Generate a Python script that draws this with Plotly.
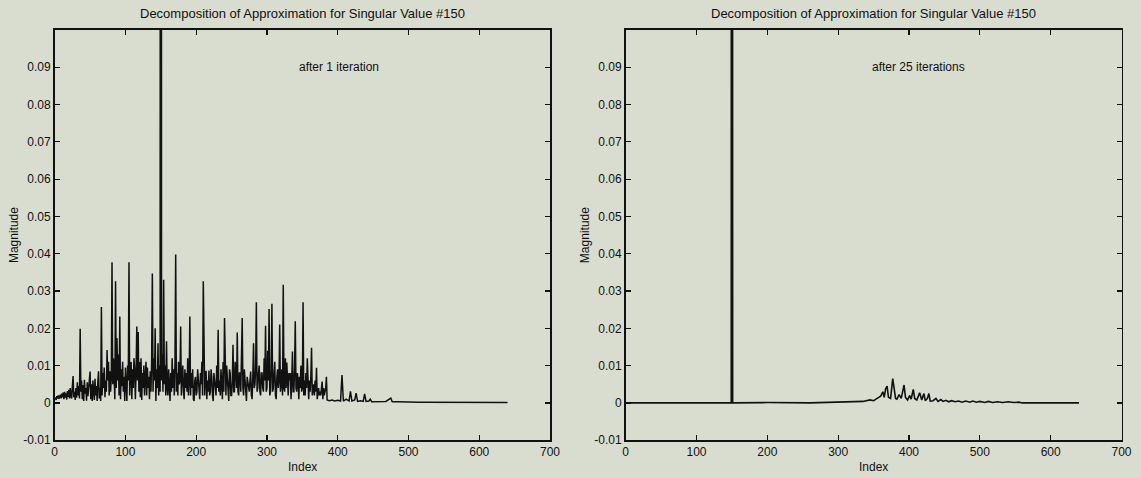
import plotly.graph_objects as go

# ---------------- data ----------------
plot_title = "Decomposition of Approximation for Singular Value #150"
left_note = "after 1 iteration"
right_note = "after 25 iterations"
x_label = "Index"
y_label = "Magnitude"

x_tick_vals = [0, 100, 200, 300, 400, 500, 600, 700]
x_tick_text = ["0", "100", "200", "300", "400", "500", "600", "700"]
y_tick_vals = [-0.01, 0, 0.01, 0.02, 0.03, 0.04, 0.05, 0.06, 0.07, 0.08, 0.09]
y_tick_text = ["-0.01", "0", "0.01", "0.02", "0.03", "0.04", "0.05",
               "0.06", "0.07", "0.08", "0.09"]

# after 1 iteration: magnitude at index 0..384, in units of 1e-4
# (index 150 is the dominant component, far above the top of the axis)
left_magnitude_e4 = [
    10, 14, 8, 18, 12, 20, 11, 16, 22, 12,
    25, 15, 28, 10, 30, 14, 26, 9, 32, 16,
    35, 12, 40, 18, 12, 45, 72, 15, 30, 8,
    40, 14, 55, 20, 45, 12, 199, 30, 60, 10,
    48, 5, 62, 25, 40, 6, 55, 18, 35, 70,
    84, 10, 50, 5, 60, 30, 8, 65, 20, 45,
    5, 58, 85, 12, 40, 5, 257, 20, 80, 40,
    95, 15, 60, 30, 142, 60, 110, 20, 85, 30,
    70, 377, 50, 120, 60, 10, 326, 40, 174, 60,
    130, 20, 232, 10, 90, 45, 110, 30, 70, 5,
    95, 40, 5, 100, 60, 377, 20, 80, 110, 10,
    90, 40, 120, 90, 10, 80, 205, 60, 190, 30,
    110, 15, 120, 8, 80, 40, 100, 20, 70, 110,
    20, 95, 40, 70, 10, 85, 30, 110, 347, 30,
    120, 60, 200, 5, 90, 40, 160, 20, 100, 30,
    9500, 60, 130, 30, 330, 50, 100, 20, 165, 40,
    20, 90, 40, 5, 80, 30, 120, 40, 90, 20,
    110, 398, 30, 80, 20, 110, 50, 60, 205, 20,
    70, 100, 30, 10, 90, 40, 80, 30, 120, 20,
    60, 232, 20, 80, 40, 90, 10, 5, 60, 70,
    20, 30, 90, 60, 20, 10, 80, 50, 110, 20,
    326, 30, 20, 70, 86, 10, 60, 30, 87, 20,
    30, 90, 70, 20, 5, 80, 60, 30, 20, 100,
    40, 196, 30, 60, 20, 90, 40, 10, 110, 30,
    228, 60, 20, 100, 70, 30, 5, 90, 80, 20,
    20, 60, 156, 30, 30, 110, 90, 40, 189, 30,
    20, 80, 80, 30, 110, 228, 40, 20, 90, 60,
    20, 5, 70, 50, 30, 30, 60, 84, 20, 10,
    70, 160, 40, 50, 90, 270, 30, 40, 80, 100,
    30, 20, 80, 80, 40, 30, 120, 60, 207, 30,
    40, 140, 60, 252, 20, 30, 90, 266, 30, 40,
    80, 110, 20, 10, 70, 90, 40, 60, 210, 30,
    50, 90, 20, 317, 40, 30, 120, 40, 108, 20,
    20, 80, 60, 80, 10, 60, 138, 30, 30, 90,
    219, 40, 30, 80, 60, 10, 70, 40, 100, 30,
    40, 270, 20, 60, 20, 80, 40, 120, 30, 10,
    60, 30, 70, 148, 20, 40, 50, 20, 60, 30,
    94, 10, 30, 40, 20, 30, 20, 50, 57, 10,
    40, 20, 30, 40, 70,
]
# after 1 iteration, sparse tail: (index, magnitude)
left_tail = [
    (385, 0.0008), (388, 0.0006), (392, 0.0008), (396, 0.0005), (400, 0.0007), (404, 0.0005),
    (406, 0.0075), (408, 0.0005), (412, 0.0010), (416, 0.0005), (418, 0.0031), (420, 0.0005),
    (424, 0.0008), (426, 0.0026), (428, 0.0004), (432, 0.0006), (436, 0.0004), (438, 0.0024),
    (440, 0.0004), (444, 0.0005), (446, 0.0010), (448, 0.0003), (455, 0.0004), (460, 0.0003),
    (468, 0.0004), (475, 0.0013), (477, 0.0003), (485, 0.0003), (495, 0.0002), (505, 0.0003),
    (515, 0.0002), (525, 0.0002), (540, 0.0002), (555, 0.0001), (570, 0.0001), (590, 0.0001),
    (610, 0.0001), (640, 0.0001),
]

# after 25 iterations: (index, magnitude)
right_points = [
    (0, 0.0), (60, 0.0001), (100, 0.0), (149, 0.0), (150, 0.95), (151, 0.0),
    (200, 0.0001), (260, 0.0), (320, 0.0002), (335, 0.0004), (345, 0.0008), (350, 0.0006),
    (355, 0.0012), (360, 0.0018), (363, 0.0030), (365, 0.0015), (367, 0.0038), (369, 0.0045),
    (371, 0.0015), (374, 0.0012), (377, 0.0065), (379, 0.0030), (381, 0.0012), (383, 0.0010),
    (386, 0.0022), (389, 0.0012), (393, 0.0048), (395, 0.0015), (398, 0.0008), (401, 0.0020),
    (403, 0.0010), (406, 0.0036), (408, 0.0012), (411, 0.0008), (415, 0.0027), (418, 0.0008),
    (421, 0.0025), (423, 0.0006), (426, 0.0012), (428, 0.0025), (430, 0.0005), (434, 0.0006),
    (438, 0.0012), (441, 0.0004), (445, 0.0009), (448, 0.0004), (452, 0.0007), (456, 0.0003),
    (460, 0.0006), (465, 0.0003), (470, 0.0005), (475, 0.0002), (480, 0.0005), (486, 0.0002),
    (490, 0.0005), (495, 0.0002), (500, 0.0004), (507, 0.0001), (512, 0.0004), (518, 0.0001),
    (525, 0.0003), (532, 0.0001), (540, 0.0003), (548, 0.0001), (555, 0.0002), (560, 0.0),
    (640, 0.0),
]

# ---------------- figure ----------------
assert len(left_magnitude_e4) == 385
left_x = list(range(len(left_magnitude_e4))) + [p[0] for p in left_tail]
left_y = [v * 1e-4 for v in left_magnitude_e4] + [p[1] for p in left_tail]
right_x = [p[0] for p in right_points]
right_y = [p[1] for p in right_points]

BG = "#d9ddcf"
INK = "#111111"
FONT = "Liberation Sans, Arial, sans-serif"

fig = go.Figure()
fig.add_trace(go.Scatter(x=left_x, y=left_y, mode="lines",
                         line=dict(color=INK, width=1.5),
                         xaxis="x", yaxis="y", showlegend=False, hoverinfo="skip"))
fig.add_trace(go.Scatter(x=right_x, y=right_y, mode="lines",
                         line=dict(color=INK, width=1.6),
                         xaxis="x2", yaxis="y2", showlegend=False, hoverinfo="skip"))

W, H = 1141, 478
top_px, bot_px = 30.0, 440.2
left_px = (54.7, 550.0)
right_px = (625.7, 1121.5)
ydom = [1 - bot_px / H, 1 - top_px / H]

axis_common = dict(
    ticks="inside", ticklen=5, tickwidth=1.2, tickcolor=INK,
    showline=True, linecolor=INK, linewidth=1.7, mirror="allticks",
    showgrid=False, zeroline=False, automargin=False,
    tickfont=dict(family=FONT, size=12, color=INK),
)
ytitle = dict(text=y_label, standoff=2, font=dict(family=FONT, size=12, color=INK))

fig.update_layout(
    width=W, height=H,
    margin=dict(l=0, r=0, t=0, b=0),
    paper_bgcolor=BG, plot_bgcolor=BG,
    xaxis=dict(domain=[left_px[0] / W, left_px[1] / W], range=[0, 700],
               tickvals=x_tick_vals, ticktext=x_tick_text, anchor="y", **axis_common),
    yaxis=dict(domain=ydom, range=[-0.01, 0.1], title=ytitle,
               tickvals=y_tick_vals, ticktext=y_tick_text, anchor="x", **axis_common),
    xaxis2=dict(domain=[right_px[0] / W, right_px[1] / W], range=[0, 700],
                tickvals=x_tick_vals, ticktext=x_tick_text, anchor="y2", **axis_common),
    yaxis2=dict(domain=ydom, range=[-0.01, 0.1], title=ytitle,
                tickvals=y_tick_vals, ticktext=y_tick_text, anchor="x2", **axis_common),
)

for (l, r) in [left_px, right_px]:
    cx = (l + r) / 2 / W
    fig.add_annotation(text=plot_title, x=cx, y=1 - 13 / H, xref="paper", yref="paper",
                       showarrow=False, xanchor="center", yanchor="middle",
                       font=dict(family=FONT, size=13, color=INK))
    fig.add_annotation(text=x_label, x=cx, y=1 - 467 / H, xref="paper", yref="paper",
                       showarrow=False, xanchor="center", yanchor="middle",
                       font=dict(family=FONT, size=12, color=INK))
fig.add_annotation(text=left_note, x=402, y=0.09, xref="x", yref="y", showarrow=False,
                   font=dict(family=FONT, size=12, color=INK))
fig.add_annotation(text=right_note, x=414, y=0.09, xref="x2", yref="y2", showarrow=False,
                   font=dict(family=FONT, size=12, color=INK))

# remove the browser's default 8px page margin so the figure fills the window
fig.write_html("out.html",
               config={"displayModeBar": False, "staticPlot": True},
               post_script="document.body.style.margin='0';document.body.style.background='%s';" % BG)
